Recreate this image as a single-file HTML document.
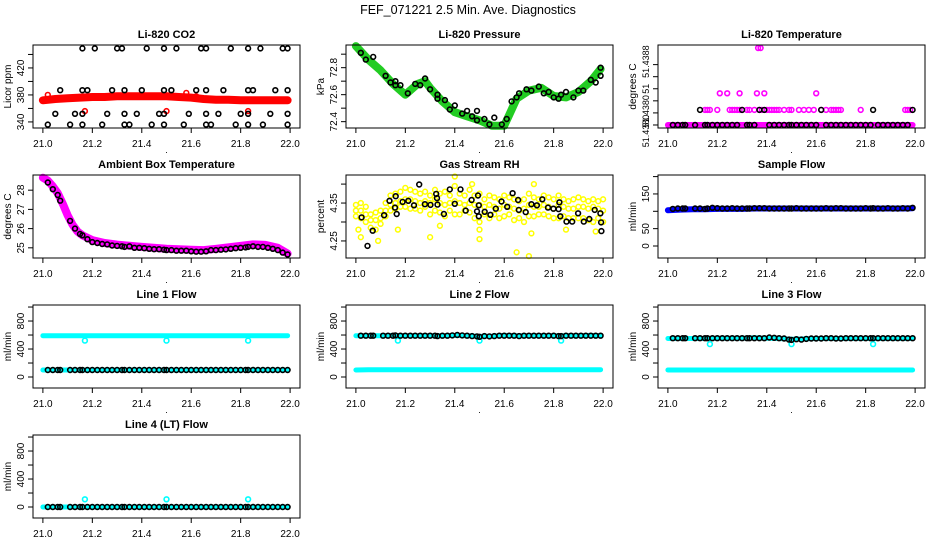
<!DOCTYPE html>
<html><head><meta charset="utf-8">
<style>
html,body{margin:0;padding:0;background:#fff;}
svg{display:block;font-family:"Liberation Sans",sans-serif;}
</style></head>
<body>
<svg id="chart" width="936" height="540" viewBox="0 0 936 540">
<text x="468" y="14" text-anchor="middle" font-size="12.5">FEF_071221  2.5 Min. Ave. Diagnostics</text>
</svg>
<script>
// ---------- DATA ----------
const xTicks = [21.0,21.2,21.4,21.6,21.8,22.0];
const xTickLabels = ["21.0","21.2","21.4","21.6","21.8","22.0"];
const tBlack = [21.02,21.04,21.06,21.07,21.11,21.13,21.15,21.16,21.18,21.2,21.22,21.24,21.26,21.28,21.3,21.32,21.33,21.35,21.37,21.39,21.41,21.43,21.45,21.47,21.49,21.5,21.52,21.54,21.56,21.58,21.6,21.62,21.64,21.66,21.68,21.7,21.72,21.74,21.76,21.78,21.8,21.82,21.83,21.85,21.87,21.89,21.91,21.93,21.95,21.97,21.99];
const bandX = [21.0,21.05,21.1,21.15,21.2,21.25,21.3,21.35,21.4,21.45,21.5,21.55,21.6,21.65,21.7,21.75,21.8,21.85,21.9,21.95,21.99];

// CO2
const co2BlackX = [21.16,21.21,21.30,21.32,21.42,21.49,21.54,21.64,21.66,21.76,21.83,21.88,21.97,21.99, 21.07,21.16,21.18,21.28,21.33,21.40,21.49,21.52,21.62,21.66,21.73,21.83,21.85,21.94,21.99, 21.05,21.13,21.16,21.26,21.33,21.38,21.47,21.49,21.59,21.66,21.71,21.80,21.83,21.92,21.99, 21.02,21.11,21.16,21.24,21.33,21.35,21.44,21.49,21.57,21.66,21.68,21.78,21.83,21.89,21.99];
const co2BlackY = [449,449,449,449,449,449,449,449,449,449,449,449,449,449, 387,387,387,387,387,387,387,387,387,387,387,387,387,387,387, 352,352,352,352,352,352,352,352,352,352,352,352,352,352,352, 336,336,336,336,336,336,336,336,336,336,336,336,336,336,336];
const co2Red = [372,374,375,376,377,377,378,378,378,378,378,377,376,374,373,373,372,372,372,372,372];
const co2RedOutX = [21.02,21.17,21.50,21.58,21.83,21.62];
const co2RedOutY = [380,356,356,383,356,378];

// Pressure
const presLineX = [21.0,21.05,21.1,21.15,21.2,21.25,21.28,21.3,21.35,21.4,21.45,21.5,21.55,21.6,21.62,21.65,21.7,21.75,21.8,21.85,21.9,21.95,21.99];
const presLineY = [72.96,72.86,72.78,72.68,72.6,72.68,72.70,72.65,72.55,72.47,72.44,72.41,72.37,72.37,72.45,72.57,72.63,72.65,72.59,72.58,72.62,72.70,72.79];
const presPtX = [21.02,21.04,21.07,21.12,21.14,21.16,21.16,21.18,21.21,21.24,21.26,21.28,21.30,21.33,21.33,21.36,21.38,21.4,21.43,21.45,21.47,21.49,21.49,21.52,21.54,21.56,21.59,21.61,21.63,21.65,21.66,21.69,21.71,21.74,21.76,21.78,21.80,21.82,21.83,21.85,21.88,21.90,21.92,21.95,21.97,21.99,21.99];
const presPtY = [72.91,72.86,72.88,72.74,72.69,72.7,72.67,72.67,72.61,72.68,72.67,72.72,72.64,72.6,72.57,72.56,72.49,72.52,72.46,72.48,72.44,72.41,72.48,72.42,72.38,72.43,72.38,72.42,72.55,72.58,72.61,72.64,72.63,72.66,72.61,72.62,72.58,72.57,72.6,72.62,72.58,72.63,72.63,72.71,72.69,72.74,72.8];

// Li-820 Temperature
const tempMagX = [21.15,21.16,21.17,21.2,21.25,21.26,21.27,21.28,21.29,21.3,21.32,21.33,21.35,21.37,21.38,21.4,21.41,21.42,21.43,21.44,21.45,21.47,21.49,21.5,21.53,21.55,21.57,21.59,21.62,21.64,21.66,21.67,21.68,21.69,21.7,21.78,21.96,21.97,21.98, 21.21,21.24,21.29,21.36,21.39,21.6, 21.365,21.375];
const tempMagY = [51.4381,51.4381,51.4381,51.4381,51.4381,51.4381,51.4381,51.4381,51.4381,51.4381,51.4381,51.4381,51.4381,51.4381,51.4381,51.4381,51.4381,51.4381,51.4381,51.4381,51.4381,51.4381,51.4381,51.4381,51.4381,51.4381,51.4381,51.4381,51.4381,51.4381,51.4381,51.4381,51.4381,51.4381,51.4381,51.4381,51.4381,51.4381,51.4381, 51.43821,51.43821,51.43821,51.43821,51.43821,51.43821, 51.43851,51.43851];
const tempBase = [51.4380,51.4380,51.4380,51.4380,51.4380,51.4380,51.4380,51.4380,51.4380,51.4380,51.4380,51.4380,51.4380,51.4380,51.4380,51.4380,51.4380,51.4380,51.4380,51.4380,51.4380];
const tempBlack = [51.4380,51.4380,51.4380,51.4380,51.4380,51.4381,51.4380,51.4380,51.4380,51.4380,51.4380,51.4380,51.4380,51.4380,51.4381,51.4380,51.4380,51.4380,51.4381,51.4381,51.4380,51.4380,51.4380,51.4380,51.4380,51.4380,51.4380,51.4380,51.4380,51.4380,51.4380,51.4381,51.4380,51.4380,51.4380,51.4380,51.4380,51.4380,51.4380,51.4380,51.4380,51.4380,51.4381,51.4380,51.4380,51.4380,51.4380,51.4380,51.4380,51.4380,51.4381];
const tempLabelText = ["51.4380","51.4380","51","51.4388"];
const tempLabelAt = [51.43796,51.43809,51.43824,51.43842];

// Ambient box temperature
const ambLineX = [21.0,21.02,21.04,21.06,21.08,21.1,21.12,21.14,21.16,21.2,21.25,21.3,21.4,21.5,21.6,21.65,21.7,21.8,21.85,21.9,21.95,21.99];
const ambLineY = [28.65,28.5,28.2,27.85,27.3,26.7,26.2,25.85,25.65,25.4,25.25,25.17,25.05,24.95,24.9,24.88,24.95,25.1,25.18,25.15,25.0,24.7];
const ambBlack = [28.4,28.05,27.75,27.45,26.4,26.0,25.72,25.65,25.45,25.3,25.25,25.2,25.18,25.12,25.1,25.08,25.05,25.08,25.0,25.0,24.98,24.95,24.93,24.93,24.9,24.88,24.88,24.85,24.85,24.85,24.82,24.8,24.8,24.82,24.88,24.88,24.9,24.92,24.95,24.98,25.0,25.02,25.05,25.08,25.05,25.05,25.0,24.95,24.88,24.75,24.65];

// Gas stream RH
const rhX = [21.0,21.02,21.04,21.06,21.08,21.1,21.12,21.14,21.16,21.18,21.2,21.22,21.24,21.26,21.28,21.3,21.32,21.34,21.36,21.38,21.4,21.42,21.44,21.46,21.48,21.5,21.52,21.54,21.56,21.58,21.6,21.62,21.64,21.66,21.68,21.7,21.72,21.74,21.76,21.78,21.8,21.82,21.84,21.86,21.88,21.9,21.92,21.94,21.96,21.98,22.0];
const rhUpper = [4.345,4.35,4.34,4.32,4.325,4.33,4.35,4.37,4.375,4.38,4.39,4.385,4.38,4.375,4.38,4.37,4.385,4.375,4.38,4.37,4.395,4.375,4.37,4.385,4.37,4.375,4.36,4.37,4.365,4.36,4.37,4.365,4.36,4.355,4.36,4.375,4.365,4.36,4.37,4.365,4.36,4.37,4.36,4.355,4.36,4.365,4.36,4.355,4.36,4.355,4.36];
const rhMid = [4.33,4.33,4.32,4.305,4.305,4.31,4.33,4.345,4.35,4.355,4.36,4.36,4.355,4.35,4.355,4.35,4.36,4.35,4.345,4.35,4.355,4.35,4.345,4.35,4.345,4.345,4.34,4.345,4.34,4.335,4.345,4.34,4.335,4.33,4.335,4.345,4.34,4.34,4.345,4.34,4.335,4.345,4.34,4.335,4.335,4.34,4.34,4.335,4.34,4.335,4.33];
const rhLower = [4.315,4.31,4.3,4.285,4.28,4.295,4.315,4.33,4.335,4.34,4.34,4.335,4.335,4.33,4.34,4.32,4.33,4.325,4.315,4.33,4.32,4.32,4.33,4.325,4.31,4.3,4.32,4.31,4.32,4.31,4.315,4.32,4.305,4.31,4.3,4.315,4.315,4.32,4.32,4.315,4.31,4.31,4.315,4.31,4.31,4.31,4.31,4.305,4.3,4.31,4.3];
const rhOutX = [21.01,21.02,21.09,21.17,21.3,21.34,21.4,21.47,21.5,21.5,21.65,21.7,21.71,21.72,21.85,21.97];
const rhOutY = [4.28,4.26,4.25,4.28,4.26,4.29,4.42,4.40,4.255,4.28,4.22,4.21,4.27,4.40,4.28,4.275];
const rhBlackX = [21.023,21.047,21.068,21.114,21.136,21.158,21.161,21.165,21.189,21.212,21.235,21.256,21.279,21.302,21.325,21.328,21.33,21.356,21.38,21.4,21.423,21.444,21.468,21.49,21.494,21.497,21.497,21.521,21.544,21.566,21.589,21.612,21.634,21.656,21.659,21.687,21.71,21.732,21.754,21.777,21.799,21.82,21.823,21.827,21.852,21.875,21.899,21.922,21.944,21.966,21.989,21.992,21.993];
const rhBlackY = [4.312,4.237,4.277,4.318,4.356,4.338,4.368,4.321,4.353,4.356,4.344,4.399,4.347,4.345,4.374,4.363,4.346,4.321,4.386,4.348,4.386,4.33,4.358,4.328,4.37,4.344,4.315,4.327,4.319,4.335,4.354,4.34,4.376,4.358,4.332,4.326,4.347,4.344,4.36,4.338,4.335,4.334,4.352,4.315,4.301,4.301,4.323,4.301,4.308,4.332,4.323,4.299,4.276];

// Sample flow
const sampBand = [103,105,106,106,107,107,107,108,108,108,108,108,108,108,108,108,108,108,108,108,109];
const sampBlack = [107,108,108,108,108,108,107,108,110,109,108,108,109,108,108,108,108,109,109,109,108,108,108,108,108,108,109,108,108,108,108,108,109,108,109,109,108,108,108,108,109,108,109,108,108,109,108,108,109,108,110];

// Line flows
const l1High = [590,590,590,590,590,590,590,590,590,590,590,590,590,590,590,590,590,590,590,590,590];
const l1Low = [100,100,100,100,100,100,100,100,100,100,100,100,100,100,100,100,100,100,100,100,100];
const l1Black = [100,100,100,100,100,100,100,100,100,100,100,100,100,100,100,100,100,100,100,100,100,100,100,100,100,100,100,100,100,100,100,100,100,100,100,100,100,100,100,100,100,100,100,100,100,100,100,100,100,100,100];
const l2High = [590,590,590,595,590,590,590,590,595,590,580,585,595,590,590,590,590,590,590,595,590];
const l2Low = [100,105,105,105,105,105,105,105,105,105,105,105,105,105,105,105,105,105,105,105,105];
const l2Black = [590,590,590,590,590,590,590,595,590,590,590,590,590,590,590,590,585,590,590,595,600,595,590,585,580,575,585,580,585,590,590,590,590,585,590,590,590,590,590,590,590,585,585,590,590,590,590,590,590,590,590];
const l3High = [550,550,550,550,555,555,555,560,555,550,540,545,550,550,550,550,550,550,550,550,550];
const l3Low = [100,100,100,100,100,100,100,100,100,100,100,100,100,100,100,100,100,100,100,100,100];
const l3Black = [555,555,555,555,555,555,555,555,555,555,555,555,555,555,555,555,555,555,555,555,565,560,555,550,535,530,540,535,545,550,550,550,555,555,550,550,555,555,555,555,555,555,555,555,555,555,555,555,555,555,555];
const l4Band = [0,0,0,0,0,0,0,0,0,0,0,0,0,0,0,0,0,0,0,0,0];
const l4Black = [0,0,0,0,0,0,0,0,0,0,0,0,0,0,0,0,0,0,0,0,0,0,0,0,0,0,0,0,0,0,0,0,0,0,0,0,0,0,0,0,0,0,0,0,0,0,0,0,0,0,0];
const flowOutX = [21.17,21.5,21.83];
const l1Out = [520,520,520];
const l2Out = [520,520,520];
const l3Out = [470,470,470];
const l4Out = [110,110,110];

// ---------- DRAWING ----------
const NS = "http://www.w3.org/2000/svg";
const svg = document.getElementById("chart");
const colLeft = [33, 346, 658];
const rowTop = [45, 175, 305, 435];
const W = 267, H = 83;
const XMIN = 20.96, XMAX = 22.04;

function mk(tag, parent, attrs) {
  const e = document.createElementNS(NS, tag);
  for (const k in attrs) e.setAttribute(k, attrs[k]);
  parent.appendChild(e);
  return e;
}

function panel(col, row, key, title, ylab, ymin, ymax, ticks, labelMap) {
  const L = colLeft[col], T = rowTop[row];
  const g = mk("g", svg, {});
  
  
  const sx = v => L + (v - XMIN) / (XMAX - XMIN) * W;
  const sy = v => T + H - (v - ymin) / (ymax - ymin) * H;
  const t = mk("text", g, {x: L + W / 2, y: T - 7, "text-anchor": "middle", "font-size": "11", "font-weight": "bold"});
  t.textContent = title;
  
  
  const plot = mk("g", g, {});
  
  
  const xa = mk("g", g, {"font-size": "10"});
  
  
  xTicks.forEach((v, i) => {
    const tk = mk("line", xa, {x1: sx(v), x2: sx(v), y1: T + H, y2: T + H + 5, stroke: "#000"});
    
    
    const lb = mk("text", xa, {x: sx(v), y: T + H + 19, "text-anchor": "middle"});
    lb.textContent = xTickLabels[i];
    
    
  });
  const dot = mk("text", xa, {x: L + W / 2, y: T + H + 25, "text-anchor": "middle", "font-size": "9"});
  dot.textContent = ".";
  
  
  const ya = mk("g", g, {"font-size": "10"});
  
  
  ticks.forEach(v => {
    const y = sy(v);
    const tk = mk("line", ya, {x1: L - 5, x2: L, y1: y, y2: y, stroke: "#000"});
    
    
    if (labelMap[v] !== undefined) {
      const lb = mk("text", ya, {x: 0, y: 0, "text-anchor": "middle", transform: `translate(${L - 9},${y}) rotate(-90)`});
      lb.textContent = labelMap[v];
      
      
    }
  });
  const yt = mk("text", g, {x: 0, y: 0, "text-anchor": "middle", "font-size": "10", transform: `translate(${L - 22},${T + H / 2}) rotate(-90)`});
  yt.textContent = ylab;
  
  
  return {g, ya, plot, sx, sy, L, T};
}

function frame(p, key) {
  const r = mk("rect", p.g, {x: p.L, y: p.T, width: W, height: H, fill: "none", stroke: "#000", "stroke-width": 1});
  
  
}

function band(p, xs, ys, color, width, name) {
  const pts = xs.map((x, i) => p.sx(x).toFixed(1) + "," + p.sy(ys[i]).toFixed(1)).join(" ");
  const pl = mk("polyline", p.plot, {points: pts, fill: "none", stroke: color, "stroke-width": width, "stroke-linejoin": "round", "stroke-linecap": "round"});
  
  
}

function points(p, xs, ys, color, name, sw) {
  const n = Math.min(xs.length, ys.length);
  for (let i = 0; i < n; i++) {
    const c = mk("circle", p.plot, {cx: p.sx(xs[i]).toFixed(1), cy: p.sy(ys[i]).toFixed(1), r: 2.4, fill: "none", stroke: color, "stroke-width": sw || 1.6});
    
    
  }
}

// 1. CO2
let p = panel(0, 0, "co2", "Li-820 CO2", "Licor ppm", 331, 454, [340,360,380,400,420,440], {340:"340",380:"380",420:"420"});
band(p, bandX, co2Red, "#ff0000", 8, "co2-red-band");
points(p, co2RedOutX, co2RedOutY, "#ff0000", "co2-red-point");
points(p, co2BlackX, co2BlackY, "#000", "co2-black-point");
frame(p, "co2");

// 2. Pressure
p = panel(1, 0, "pressure", "Li-820 Pressure", "kPa", 72.353, 72.968, [72.4,72.5,72.6,72.7,72.8,72.9], {72.4:"72.4",72.6:"72.6",72.8:"72.8"});
band(p, presLineX, presLineY, "#22cc22", 8, "pressure-green-band");
points(p, presPtX, presPtY, "#000", "pressure-black-point");
frame(p, "pressure");

// 3. Li-820 temperature
p = panel(2, 0, "li820-temp", "Li-820 Temperature", "degrees C", 51.43798, 51.43853, [51.4380,51.43808,51.43816,51.43824,51.43832,51.4384], {});
tempLabelText.forEach((txt, i) => {
  const lb = mk("text", p.ya, {x: 0, y: 0, "text-anchor": "middle", "font-size": "9", transform: `translate(${p.L - 9},${p.sy(tempLabelAt[i])}) rotate(-90)`});
  lb.textContent = txt;
  
  
});
band(p, bandX, tempBase, "#ff00ff", 6, "li820-temp-magenta-band");
points(p, tempMagX, tempMagY, "#ff00ff", "li820-temp-magenta-point");
points(p, tBlack, tempBlack, "#000", "li820-temp-black-point");
frame(p, "li820-temp");

// 4. Ambient box temperature
p = panel(0, 1, "ambient-temp", "Ambient Box Temperature", "degrees C", 24.47, 28.79, [25,26,27,28], {25:"25",26:"26",27:"27",28:"28"});
band(p, ambLineX, ambLineY, "#ff00ff", 8, "ambient-magenta-band");
points(p, tBlack, ambBlack, "#000", "ambient-black-point");
frame(p, "ambient-temp");

// 5. Gas stream RH
p = panel(1, 1, "gas-rh", "Gas Stream RH", "percent", 4.205, 4.424, [4.25,4.30,4.35,4.40], {4.25:"4.25",4.35:"4.35"});
points(p, rhX, rhUpper, "#ffff00", "rh-yellow-point", 1.5);
points(p, rhX, rhMid, "#ffff00", "rh-yellow-point", 1.5);
points(p, rhX, rhLower, "#ffff00", "rh-yellow-point", 1.5);
points(p, rhOutX, rhOutY, "#ffff00", "rh-yellow-point", 1.5);
points(p, rhBlackX, rhBlackY, "#000", "rh-black-point");
frame(p, "gas-rh");

// 6. Sample flow
p = panel(2, 1, "sample-flow", "Sample Flow", "ml/min", -34.6, 204.6, [0,50,100,150,200], {0:"0",50:"50",150:"150"});
band(p, bandX, sampBand, "#0000ff", 6, "sample-blue-band");
points(p, tBlack, sampBlack, "#000", "sample-black-point");
frame(p, "sample-flow");

// 7-10. Line flows
const flowTicks = [0,200,400,600,800,1000];
const flowLabels = {0:"0",400:"400",800:"800"};
function flowPanel(col, row, key, title, hi, lo, black, out) {
  const q = panel(col, row, key, title, "ml/min", -157, 1029, flowTicks, flowLabels);
  if (hi) band(q, bandX, hi, "#00ffff", 5, key + "-cyan-band-high");
  band(q, bandX, lo, "#00ffff", 5, key + "-cyan-band-low");
  points(q, flowOutX, out, "#00ffff", key + "-cyan-point");
  points(q, tBlack, black, "#000", key + "-black-point");
  frame(q, key);
}
flowPanel(0, 2, "line1-flow", "Line 1 Flow", l1High, l1Low, l1Black, l1Out);
flowPanel(1, 2, "line2-flow", "Line 2 Flow", l2High, l2Low, l2Black, l2Out);
flowPanel(2, 2, "line3-flow", "Line 3 Flow", l3High, l3Low, l3Black, l3Out);
flowPanel(0, 3, "line4-flow", "Line 4 (LT) Flow", null, l4Band, l4Black, l4Out);
</script>
</body></html>
